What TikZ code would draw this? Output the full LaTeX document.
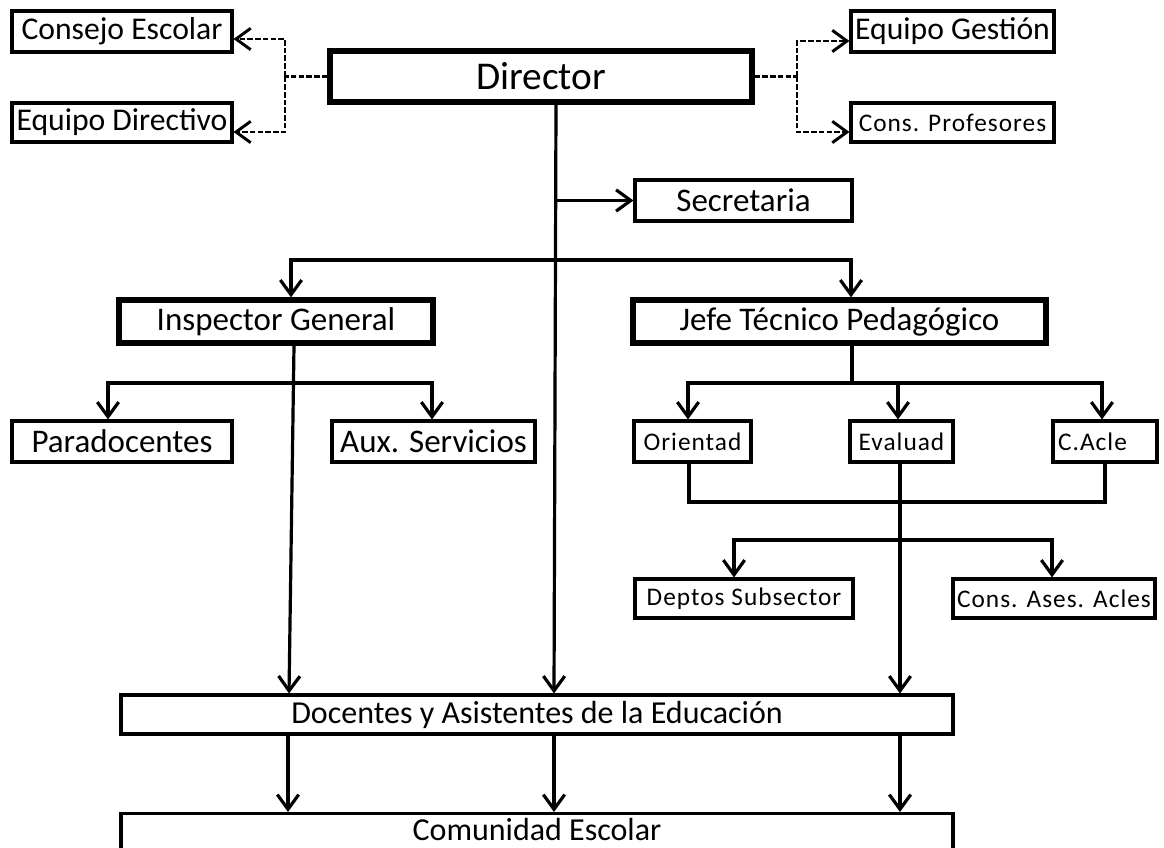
\documentclass[tikz,border=0pt]{standalone}
\usepackage{fontspec}
\setmainfont{Carlito}
\newfontfamily\spacedfont[LetterSpace=4]{Carlito}
\usetikzlibrary{arrows.meta}
\begin{document}
\begin{tikzpicture}[x=0.75pt,y=-0.75pt,
  >={Straight Barb[length=11pt,width=16pt]},
  box/.style={draw, line width=2.3pt, inner sep=0pt, font=\fontsize{24.75pt}{30pt}\selectfont},
  bbox/.style={box, line width=3.9pt},
  tbox/.style={box, font=\fontsize{23.75pt}{28pt}\selectfont},
  sbox/.style={box, font=\spacedfont\fontsize{19pt}{22pt}\selectfont},
  wh/.style 2 args={minimum width=#1*0.75pt, minimum height=#2*0.75pt},
  ln/.style={line width=2.4pt},
  dl/.style={line width=2.2pt, dash pattern=on 4.2pt off 1.6pt}]
\clip (0,0) rectangle (1164,848);
\fill[white] (0,0) rectangle (1164,848);
% top row
\node[tbox, wh={220}{41}] (ce) at (122,31.5) {Consejo Escolar};
\node[tbox, wh={220}{39}] (ed) at (122,122.5) {Equipo Directivo};
\node[bbox, wh={422}{51}, font=\fontsize{29.5pt}{34pt}\selectfont] (dir) at (541,76.5) {Director};
\node[tbox, wh={203}{41}] (eg) at (952.5,31.5) {Equipo Gestión};
\node[sbox, wh={203}{39}] (cp) at (952.5,122.5) {Cons. Profesores};
\node[box, wh={217}{41}] (sec) at (743.5,200.5) {Secretaria};
% second level
\node[bbox, wh={314}{43}] (ins) at (276,321.5) {Inspector General};
\node[bbox, wh={413}{43}] (jtp) at (839.5,321.5) {Jefe Técnico Pedagógico};
\node[box, wh={220}{41}] (par) at (122,441.5) {Paradocentes};
\node[box, wh={203}{41}] (aux) at (433.5,441.5) {Aux. Servicios};
\node[sbox, wh={117}{41}] (ori) at (692.5,441.5) {Orientad};
\node[sbox, wh={103}{41}] (eva) at (901.5,441.5) {Evaluad};
\node[sbox, wh={104}{41}, text width=94*0.75pt, align=left] (cac) at (1105,441.5) {C.Acle};
\node[sbox, wh={218}{39}] (dep) at (744,598.5) {Deptos Subsector};
\node[sbox, wh={202}{39}] (cas) at (1054,598.5) {Cons. Ases. Acles};
\node[box, wh={832}{39}, font=\fontsize{24pt}{28pt}\selectfont] (doc) at (537,714.5) {Docentes y Asistentes de la Educación};
\node[box, minimum width=832*0.75pt, anchor=north, text height=19*0.75pt, text depth=50*0.75pt, inner ysep=8*0.75pt, font=\fontsize{24pt}{28pt}\selectfont] (com) at (537,812) {Comunidad Escolar};
% dashed connectors
\draw[dl] (dir.west) -- (285,76.5);
\draw[dl,->] (285,76.5) |- (ce.east |- 0,39);
\draw[dl,->] (285,76.5) |- (ed.east |- 0,132);
\draw[dl] (dir.east) -- (797,76.5);
\draw[dl,->] (797,76.5) |- (eg.west |- 0,41);
\draw[dl,->] (797,76.5) |- (cp.west |- 0,132);
% main connectors
\draw[ln,->] (dir.south -| 556,0) -- (doc.north -| 554,0);
\draw[ln,->] (556,200.5) -- (sec.west);
\draw[ln,<->] (ins.north -| 291,0) |- (560,260) -| (jtp.north -| 851,0);
\draw[ln,->] (ins.south -| 294,0) -- (doc.north -| 289,0);
\draw[ln,<->] (par.north -| 108,0) |- (270,383) -| (aux.north -| 432,0);
\draw[ln] (jtp.south -| 852,0) -- (852,383);
\draw[ln,<->] (ori.north -| 688,0) |- (850,383) -| (cac.north -| 1102,0);
\draw[ln,->] (898,383) -- (eva.north -| 898,0);
\draw[ln] (ori.south -| 689,0) |- (900,502) -| (cac.south -| 1105,0);
\draw[ln,->] (eva.south -| 900,0) -- (doc.north -| 900,0);
\draw[ln,<->] (dep.north -| 734,0) |- (900,540) -| (cas.north -| 1052,0);
\draw[ln,->] (doc.south -| 288,0) -- (com.north -| 288,0);
\draw[ln,->] (doc.south -| 554,0) -- (com.north -| 554,0);
\draw[ln,->] (doc.south -| 900,0) -- (com.north -| 900,0);
\end{tikzpicture}
\end{document}
